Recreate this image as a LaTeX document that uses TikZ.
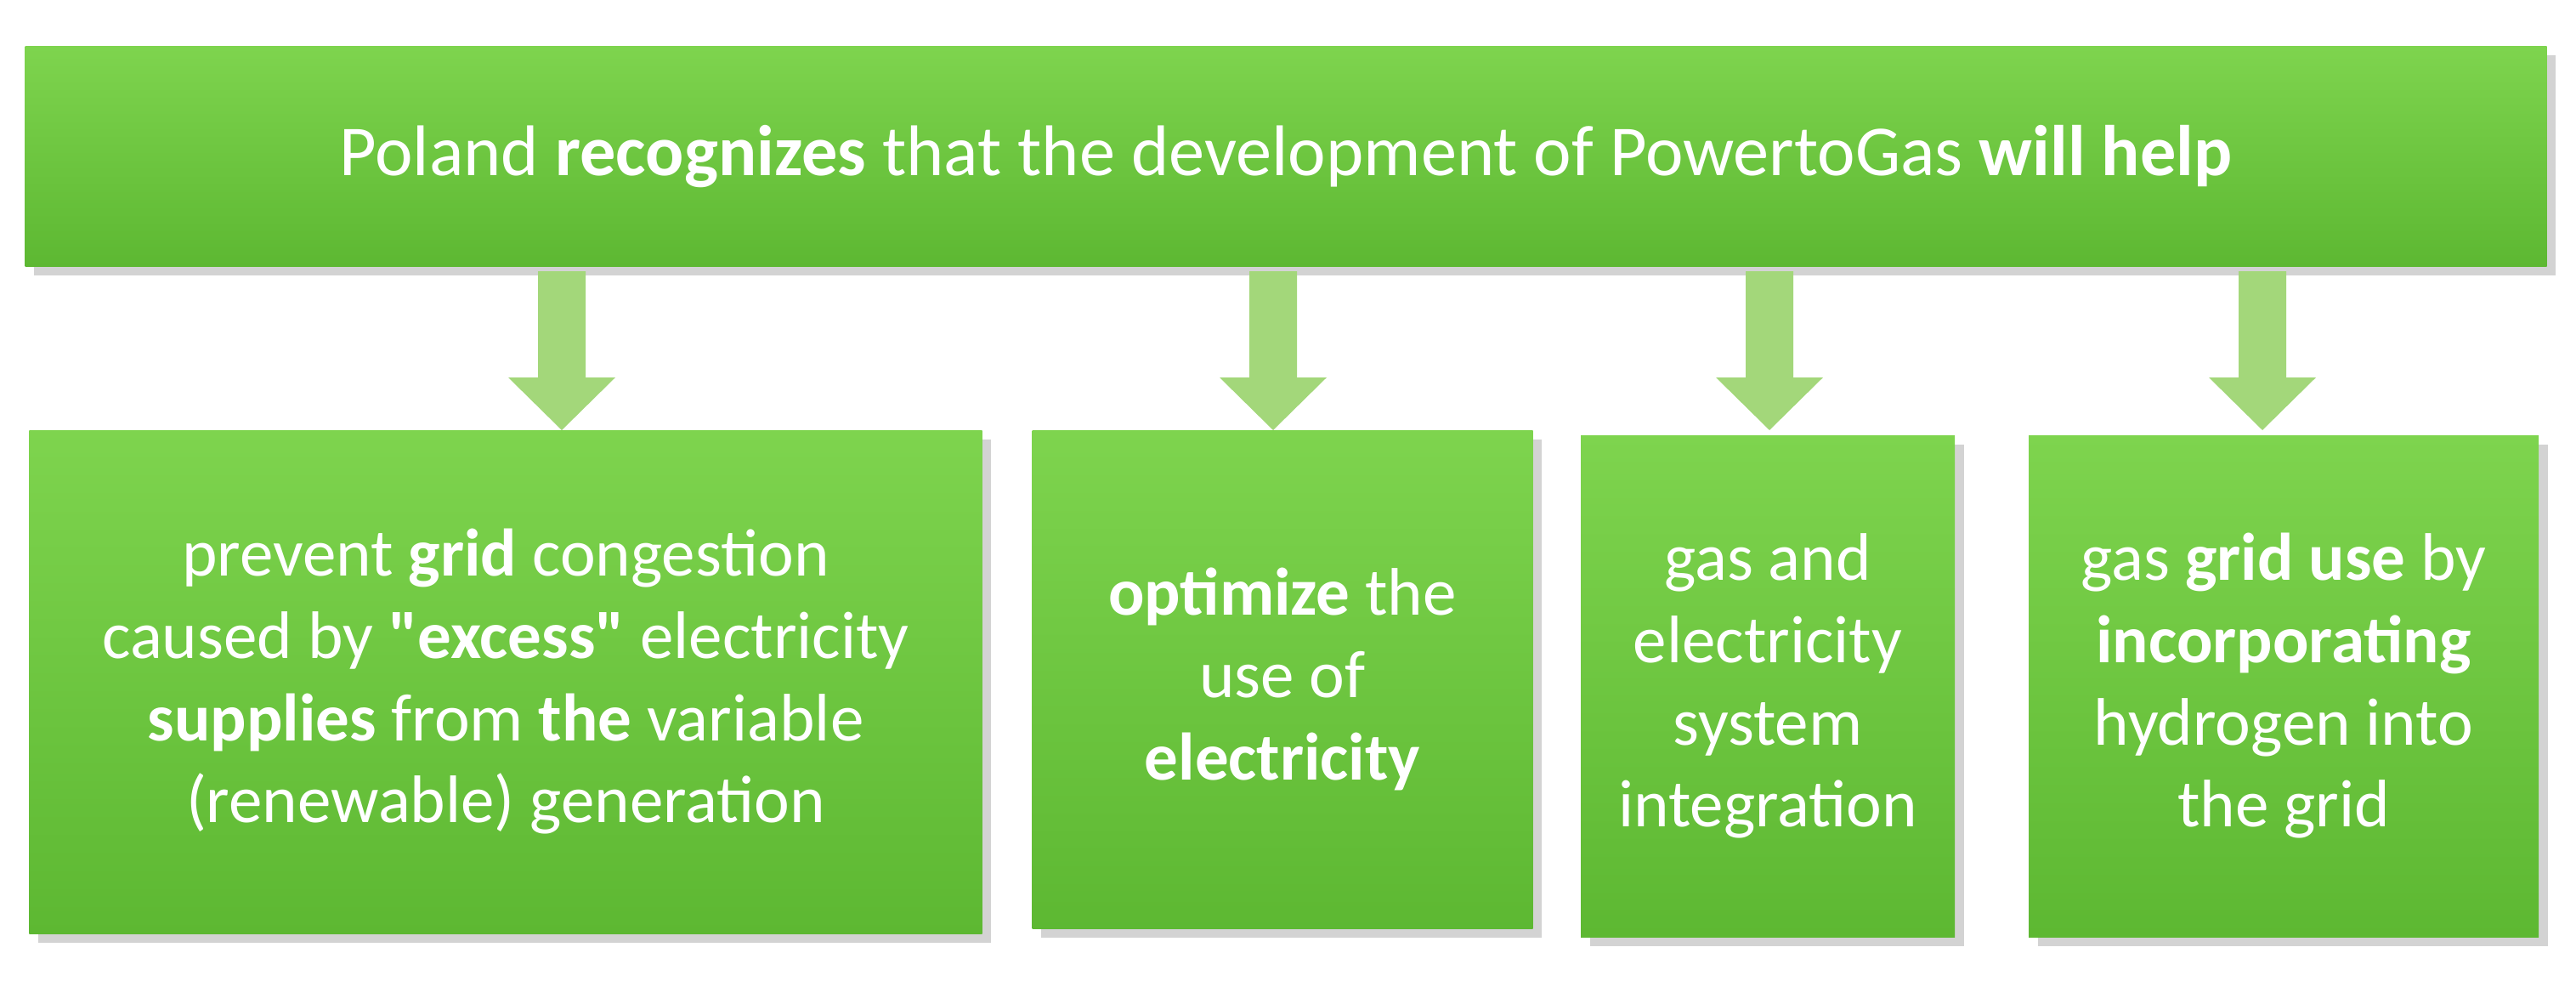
\documentclass[tikz,border=0pt]{standalone}
\usepackage{fontspec}
\setmainfont{Carlito}
\usetikzlibrary{shadows}
\definecolor{gtop}{HTML}{7ED44E}
\definecolor{gbot}{HTML}{5DB832}
\definecolor{arr}{HTML}{A3D77A}
\tikzset{
 gbox/.style={draw=none, top color=gtop, bottom color=gbot, drop shadow={shadow xshift=3pt,shadow yshift=-3pt,opacity=0.35}, text=white, align=center, inner sep=0pt},
 btxt/.style={font=\fontsize{22.5}{27.5}\selectfont},
 arrfill/.style={fill=arr, draw=none}
}
\newcommand{\downarr}[2]{% x, name
 \coordinate (#2) at (#1,-3.19);
 \fill[arrfill] ($(#2)+(-0.28,0)$) -- ++(0.56,0) -- ++(0,-1.25) -- ++(0.35,0) -- ($(#2)+(0,-1.87)$) -- ($(#2)+(-0.63,-1.25)$) -- ++(0.35,0) -- cycle;}
\usetikzlibrary{calc}
\begin{document}
\begin{tikzpicture}
\useasboundingbox (0,0) rectangle (30.31,-11.6);
\node[gbox, minimum width=29.67cm, minimum height=2.59cm, font=\fontsize{24}{28}\selectfont] (top) at (15.13,-1.84) {Poland \textbf{recognizes} that the development of PowertoGas \textbf{will help}};
\node[gbox, btxt, minimum width=11.21cm, minimum height=5.92cm] (b1) at (5.95,-8.02) {prevent \textbf{grid} congestion\\caused by \textbf{\textquotedbl excess\textquotedbl} electricity\\\textbf{supplies} from \textbf{the} variable\\(renewable) generation};
\node[gbox, btxt, minimum width=5.89cm, minimum height=5.86cm] (b2) at (15.09,-7.99) {\textbf{optimize} the\\use of\\\textbf{electricity}};
\node[gbox, btxt, minimum width=4.4cm, minimum height=5.9cm] (b3) at (20.8,-8.07) {gas and\\electricity\\system\\integration};
\node[gbox, btxt, minimum width=6.0cm, minimum height=5.9cm] (b4) at (26.87,-8.07) {gas \textbf{grid use} by\\\textbf{incorporating}\\hydrogen into\\the grid};
\downarr{6.61}{a1}
\downarr{14.98}{a2}
\downarr{20.82}{a3}
\downarr{26.62}{a4}
\end{tikzpicture}
\end{document}
